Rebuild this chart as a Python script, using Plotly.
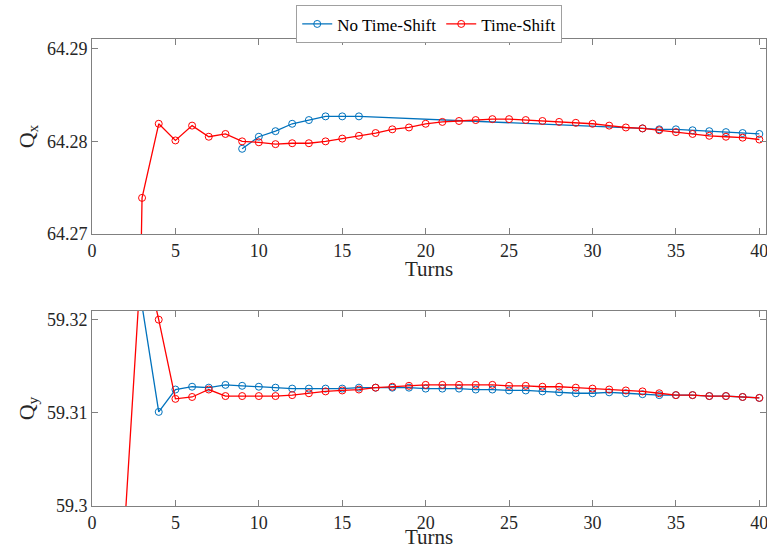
import plotly.graph_objects as go

# ---- data ----
turns_qx_blue = [9, 10, 11, 12, 13, 14, 15, 16, 33, 34, 35, 36, 37, 38, 39, 40]
qx_blue = [64.2792, 64.2805, 64.2811, 64.2819, 64.2823, 64.2827, 64.2827, 64.2827,
           64.2814, 64.2813, 64.2813, 64.2812, 64.2811, 64.2810, 64.2809, 64.2808]

turns_qx_red = list(range(2, 41))
qx_red = [64.17, 64.2739, 64.2819, 64.2801, 64.2817, 64.2805, 64.2808, 64.2800, 64.2799,
          64.2797, 64.2798, 64.2798, 64.2800, 64.2803, 64.2806, 64.2809, 64.2813, 64.2815,
          64.2819, 64.2821, 64.2822, 64.2823, 64.2824, 64.2824, 64.2823, 64.2822, 64.2821,
          64.2820, 64.2819, 64.2817, 64.2815, 64.2814, 64.2812, 64.2810, 64.2808, 64.2806,
          64.2805, 64.2804, 64.2802]

turns_qy_blue = list(range(3, 41))
qy_blue = [59.3215, 59.3101, 59.3125, 59.3128, 59.3127, 59.3130, 59.3129, 59.3128, 59.3127,
           59.3126, 59.3126, 59.3126, 59.3126, 59.3127, 59.3127, 59.3127, 59.3127, 59.3126,
           59.3126, 59.3126, 59.3125, 59.3125, 59.3124, 59.3124, 59.3123, 59.3122, 59.3121,
           59.3121, 59.3122, 59.3121, 59.3120, 59.3119, 59.3119, 59.3119, 59.3118, 59.3118,
           59.3117, 59.3116]

turns_qy_red = list(range(2, 41))
qy_red = [59.299, 59.3278, 59.3200, 59.3115, 59.3117, 59.3125, 59.3118, 59.3118, 59.3118,
          59.3118, 59.3119, 59.3121, 59.3123, 59.3124, 59.3125, 59.3127, 59.3128, 59.3129,
          59.3130, 59.3130, 59.3130, 59.3130, 59.3130, 59.3129, 59.3129, 59.3128, 59.3128,
          59.3127, 59.3126, 59.3125, 59.3124, 59.3123, 59.3121, 59.3119, 59.3119, 59.3118,
          59.3118, 59.3117, 59.3116]

x_ticks = [0, 5, 10, 15, 20, 25, 30, 35, 40]
qx_ticks = [64.27, 64.28, 64.29]
qx_ticktext = ["64.27", "64.28", "64.29"]
qy_ticks = [59.30, 59.31, 59.32]
qy_ticktext = ["59.3", "59.31", "59.32"]

BLUE = "#0072BD"
RED = "#FF0000"
FONT = "Liberation Serif"
AX = "#808080"
TXT = "#262626"

fig = go.Figure()

def add(x, y, color, name, xa, ya, show):
    fig.add_trace(go.Scatter(
        x=x, y=y, mode="lines+markers", name=name, showlegend=show,
        line=dict(color=color, width=1.3),
        marker=dict(symbol="circle-open", size=7, color=color, line=dict(width=1, color=color)),
        xaxis=xa, yaxis=ya, cliponaxis=True))

add(turns_qx_blue, qx_blue, BLUE, "No Time-Shift", "x", "y", True)
add(turns_qx_red, qx_red, RED, "Time-Shift", "x", "y", True)
add(turns_qy_blue, qy_blue, BLUE, "No Time-Shift", "x2", "y2", False)
add(turns_qy_red, qy_red, RED, "Time-Shift", "x2", "y2", False)

common = dict(showline=True, linecolor=AX, linewidth=1, mirror="ticks", ticks="inside",
              ticklen=6, tickcolor=AX, showgrid=False, zeroline=False,
              tickfont=dict(family=FONT, size=18, color=TXT), automargin=False,
              ticklabeloverflow="allow")

xcommon = dict(common, range=[0, 40.4], tickmode="array", tickvals=x_ticks)

fig.update_layout(
    width=767, height=547,
    margin=dict(l=92, r=1, t=39, b=41),
    paper_bgcolor="white", plot_bgcolor="white",
    font=dict(family=FONT, color=TXT),
    xaxis=dict(xcommon, domain=[0, 1], anchor="y"),
    yaxis=dict(common, domain=[0.5824, 1], anchor="x", range=[64.27, 64.29105],
               tickmode="array", tickvals=qx_ticks, ticktext=qx_ticktext,
               title=dict(text="Q<sub>x</sub>", font=dict(family=FONT, size=22, color=TXT), standoff=6)),
    xaxis2=dict(xcommon, domain=[0, 1], anchor="y2"),
    yaxis2=dict(common, domain=[0, 0.4176], anchor="x2", range=[59.30, 59.32093],
                tickmode="array", tickvals=qy_ticks, ticktext=qy_ticktext,
                title=dict(text="Q<sub>y</sub>", font=dict(family=FONT, size=22, color=TXT), standoff=6)),
    legend=dict(orientation="h", x=0.303, xanchor="left", y=1.072, yanchor="top",
                bgcolor="white", bordercolor="#a0a0a0", borderwidth=1,
                font=dict(family=FONT, size=17, color="black"),
                itemwidth=30, tracegroupgap=0),
    annotations=[
        dict(text="Turns", x=0.5, xref="paper", y=0.5075, yref="paper", xanchor="center",
             yanchor="middle", showarrow=False, font=dict(family=FONT, size=21, color=TXT)),
        dict(text="Turns", x=0.5, xref="paper", y=-0.0655, yref="paper", xanchor="center",
             yanchor="middle", showarrow=False, font=dict(family=FONT, size=21, color=TXT)),
    ],
)

fig.write_html("out.html")
